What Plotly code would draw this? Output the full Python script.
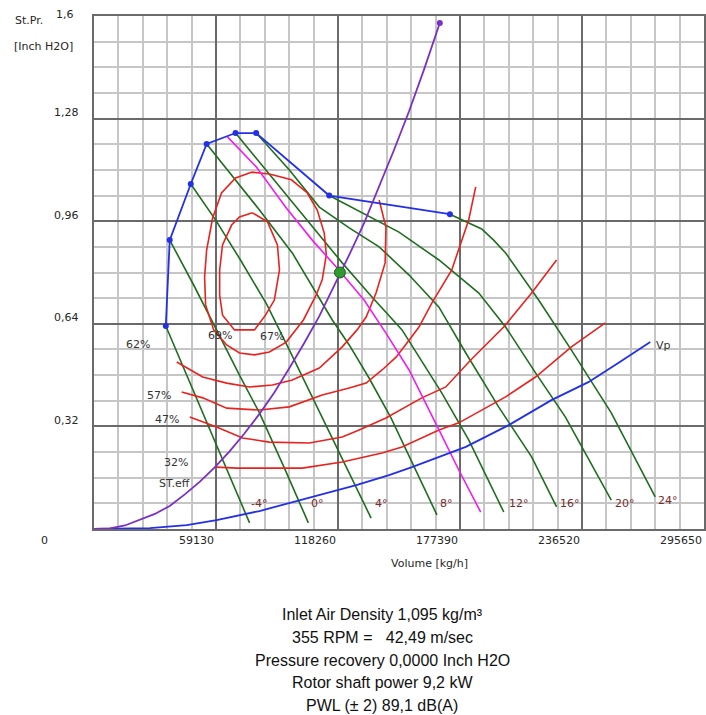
import plotly.graph_objects as go

# ---- axes -------------------------------------------------------------
x_ticks = [0, 59130, 118260, 177390, 236520, 295650]
x_tick_text = ["0", "59130", "118260", "177390", "236520", "295650"]
y_ticks = [0.32, 0.64, 0.96, 1.28, 1.6]
y_tick_text = ["0,32", "0,64", "0,96", "1,28", "1,6"]
X_MAX = 295650
Y_MAX = 1.6

# ---- surge line (blue, with points) -----------------------------------
surge_x = [34800, 36700, 46900, 54600, 68600, 78600, 114000, 172500]
surge_y = [0.633, 0.901, 1.076, 1.201, 1.235, 1.235, 1.040, 0.982]

# ---- system resistance curve (purple) ----------------------------------
system_x = [0, 7700, 15000, 22200, 29500, 36700, 44000, 51200, 58500, 65700,
            72900, 80200, 87400, 94700, 101900, 109200, 116400, 123700,
            130900, 138200, 145400, 152700, 159900, 167600]
system_y = [0.000, 0.002, 0.011, 0.028, 0.047, 0.072, 0.108, 0.147, 0.192, 0.242,
            0.298, 0.359, 0.426, 0.502, 0.580, 0.664, 0.758, 0.855,
            0.954, 1.067, 1.182, 1.303, 1.432, 1.578]

# ---- duty point ---------------------------------------------------------
duty_x = [119200]
duty_y = [0.800]

# ---- blade angle at duty (magenta) -------------------------------------
duty_angle_x = [64700, 78700, 93200, 105800, 117400, 130900, 141500, 152700,
                167200, 176800, 187400]
duty_angle_y = [1.223, 1.129, 1.001, 0.901, 0.817, 0.714, 0.611, 0.496,
                0.309, 0.184, 0.053]

# ---- blade angle lines (green) ------------------------------------------
angle_labels = ["-4°", "0°", "4°", "8°", "12°", "16°", "20°", "24°"]
angle_label_x = [80200, 108200, 139100, 171000, 205800, 230900, 257500, 278300]
angle_label_y = [0.081, 0.081, 0.081, 0.081, 0.081, 0.081, 0.081, 0.090]

angle_m4_x = [34800, 44900, 55100, 65200, 75400]
angle_m4_y = [0.633, 0.480, 0.324, 0.172, 0.019]
angle_0_x = [36700, 48300, 59400, 70500, 80200, 92300, 103900]
angle_0_y = [0.901, 0.761, 0.621, 0.480, 0.362, 0.190, 0.019]
angle_4_x = [46900, 58900, 71000, 83600, 95200, 109200, 122700, 134300]
angle_4_y = [1.076, 0.964, 0.839, 0.702, 0.552, 0.365, 0.190, 0.034]
angle_8_x = [54600, 67200, 80200, 96100, 105800, 115500, 123700, 133300,
             144000, 155100, 166200]
angle_8_y = [1.201, 1.098, 0.995, 0.861, 0.755, 0.652, 0.574, 0.471,
             0.346, 0.193, 0.044]
angle_12_x = [68600, 89900, 105800, 120300, 134300, 149300, 168600, 181600, 198600]
angle_12_y = [1.235, 1.067, 0.942, 0.830, 0.727, 0.621, 0.424, 0.278, 0.053]
angle_16_x = [78600, 94700, 109200, 123700, 138200, 152700, 167200, 180200,
              196100, 212100, 224200]
angle_16_y = [1.235, 1.120, 1.004, 0.939, 0.880, 0.792, 0.692, 0.549,
              0.381, 0.225, 0.069]
angle_20_x = [114000, 131900, 147800, 167200, 186500, 199500, 214000, 228500,
              239600, 250700]
angle_20_y = [1.040, 0.979, 0.926, 0.839, 0.736, 0.630, 0.487, 0.349,
              0.221, 0.090]
angle_24_x = [172500, 187900, 193700, 199500, 215500, 231400, 250700, 261400, 272000]
angle_24_y = [0.982, 0.936, 0.901, 0.861, 0.714, 0.558, 0.362, 0.231, 0.100]

# ---- static efficiency contours (red) ----------------------------------
eff_69_x = [76800, 84100, 88900, 89900, 87400, 83100, 77800, 68100, 62300,
            60900, 60900, 62300, 66700, 70500, 76800]
eff_69_y = [0.986, 0.958, 0.886, 0.808, 0.714, 0.667, 0.621, 0.621, 0.667,
            0.730, 0.808, 0.886, 0.948, 0.973, 0.986]
eff_67_x = [76300, 85000, 95700, 103400, 108200, 111600, 112600, 110600, 107700,
            101500, 93200, 85000, 77800, 70500, 64300, 58000, 54100, 53600,
            54600, 57500, 61800, 68600, 76300]
eff_67_y = [1.113, 1.107, 1.089, 1.048, 0.995, 0.923, 0.855, 0.777, 0.730,
            0.652, 0.583, 0.552, 0.543, 0.549, 0.574, 0.621, 0.699, 0.786,
            0.870, 0.970, 1.048, 1.095, 1.113]
eff_62_x = [40100, 52700, 64300, 75400, 86500, 96100, 109200, 120300, 127500,
            131900, 136700, 141100, 141500, 138200]
eff_62_y = [0.521, 0.474, 0.455, 0.443, 0.449, 0.465, 0.502, 0.568, 0.621,
            0.661, 0.736, 0.830, 0.942, 1.026]
eff_57_x = [42500, 52700, 64300, 80200, 94700, 110600, 123700, 131900, 139600,
            146400, 152700, 157500, 163800, 173400, 181600, 185000]
eff_57_y = [0.427, 0.409, 0.377, 0.371, 0.381, 0.418, 0.440, 0.455, 0.496,
            0.536, 0.589, 0.630, 0.705, 0.808, 0.964, 1.067]
eff_47_x = [46400, 59400, 72000, 85000, 104400, 120300, 128500, 141500, 158900,
            170500, 182600, 198600, 212100, 224200]
eff_47_y = [0.349, 0.318, 0.284, 0.271, 0.268, 0.287, 0.309, 0.346, 0.409,
            0.443, 0.527, 0.630, 0.736, 0.839]
eff_32_x = [59400, 69100, 91300, 101000, 120300, 139600, 149300, 167200, 176800,
            199500, 214000, 231400, 247800]
eff_32_y = [0.193, 0.190, 0.190, 0.190, 0.209, 0.237, 0.256, 0.309, 0.331,
            0.412, 0.474, 0.568, 0.643]

eff_labels = ["62%", "57%", "47%", "32%", "ST.eff", "69%", "67%"]
eff_label_x = [21300, 31400, 35300, 39600, 39100, 60900, 86500]
eff_label_y = [0.574, 0.415, 0.343, 0.206, 0.143, 0.605, 0.599]

# ---- velocity pressure (blue) ------------------------------------------
vp_x = [0, 12600, 27100, 44900, 59400, 80200, 96100, 110600, 127100, 143000,
        154100, 180200, 201000, 221700, 239600, 254100, 269600]
vp_y = [0.000, 0.002, 0.003, 0.012, 0.028, 0.056, 0.084, 0.109, 0.137, 0.168,
        0.193, 0.256, 0.324, 0.402, 0.458, 0.518, 0.583]

info_lines = [
    "Inlet Air Density 1,095 kg/m³",
    "355 RPM =   42,49 m/sec",
    "Pressure recovery 0,0000 Inch H2O",
    "Rotor shaft power 9,2 kW",
    "PWL (± 2) 89,1 dB(A)",
]

# ---- figure geometry ----------------------------------------------------
W, H = 706, 715
ML, MR, MT, MB = 94, 0, 16, 186
PW, PH = W - ML - MR, H - MT - MB


def paper_x(px):
    return (px - ML) / PW


def paper_y(py):
    return (H - MB - py) / PH


GREEN = "#1f6e1f"
RED = "#e8231f"
BLUE = "#2330e6"
PURPLE = "#7b2fc4"
MAGENTA = "#f01cf0"
LABEL_FONT = "DejaVu Sans"
TEXT_COLOR = "#262626"

fig = go.Figure()


def add_line(x, y, color, width=1.6):
    fig.add_trace(go.Scatter(x=x, y=y, mode="lines",
                             line=dict(color=color, width=width),
                             hoverinfo="skip", showlegend=False))


for xs, ys in [(angle_m4_x, angle_m4_y), (angle_0_x, angle_0_y),
               (angle_4_x, angle_4_y), (angle_8_x, angle_8_y),
               (angle_12_x, angle_12_y), (angle_16_x, angle_16_y),
               (angle_20_x, angle_20_y), (angle_24_x, angle_24_y)]:
    add_line(xs, ys, GREEN)

for xs, ys in [(eff_69_x, eff_69_y), (eff_67_x, eff_67_y), (eff_62_x, eff_62_y),
               (eff_57_x, eff_57_y), (eff_47_x, eff_47_y), (eff_32_x, eff_32_y)]:
    add_line(xs, ys, RED)

add_line(duty_angle_x, duty_angle_y, MAGENTA)
add_line(vp_x, vp_y, BLUE, 1.8)

fig.add_trace(go.Scatter(x=surge_x, y=surge_y, mode="lines+markers",
                         line=dict(color=BLUE, width=1.8),
                         marker=dict(color=BLUE, size=6, symbol="circle"),
                         hoverinfo="skip", showlegend=False))

add_line(system_x, system_y, PURPLE, 1.8)
fig.add_trace(go.Scatter(x=system_x[-1:], y=system_y[-1:], mode="markers",
                         marker=dict(color=PURPLE, size=6),
                         hoverinfo="skip", showlegend=False))

fig.add_trace(go.Scatter(x=duty_x, y=duty_y, mode="markers",
                         marker=dict(color="#2f9a2f", size=11,
                                     line=dict(color="#1f5e1f", width=1)),
                         hoverinfo="skip", showlegend=False))

annotations = []


def label(text, x, y, xref, yref, xanchor="center", size=11, color=TEXT_COLOR,
          family=LABEL_FONT, **kw):
    annotations.append(dict(x=x, y=y, xref=xref, yref=yref, text=text,
                            showarrow=False, xanchor=xanchor, yanchor="middle",
                            font=dict(family=family, size=size, color=color), **kw))


for txt, x, y in zip(angle_labels, angle_label_x, angle_label_y):
    label(txt, x, y, "x", "y", color="#7a2a2a")

for txt, x, y in zip(eff_labels, eff_label_x, eff_label_y):
    label(txt, x, y, "x", "y", color="#333333")

label("Vp", vp_x[-1], vp_y[-1], "x", "y", xanchor="left", xshift=4, yshift=-3,
      color="#333333")

# tick labels
for val, txt in zip(x_ticks, x_tick_text):
    label(txt, val, paper_y(540), "x", "paper", xanchor="right",
          xshift=-44 if val == 0 else 0)
for val, txt in zip(y_ticks, y_tick_text):
    if val == Y_MAX:
        label(txt, paper_x(65), val, "paper", "y", yshift=2)
    else:
        label(txt, paper_x(81), val, "paper", "y", xanchor="right", yshift=6)

label("St.Pr.", paper_x(13), paper_y(20), "paper", "paper", xanchor="left")
label("[Inch H2O]", paper_x(12), paper_y(46), "paper", "paper", xanchor="left")
label("Volume [kg/h]", paper_x(431), paper_y(563), "paper", "paper")

for i, line in enumerate(info_lines):
    label(line, paper_x(383), paper_y(615 + 22.5 * i), "paper", "paper",
          size=16, color="#111111", family="Liberation Sans")

MAJOR = "#6a6a6a"
MINOR = "#c6c6c6"

fig.update_layout(
    width=W, height=H,
    margin=dict(l=ML, r=MR, t=MT, b=MB, pad=0),
    paper_bgcolor="white", plot_bgcolor="white",
    showlegend=False,
    annotations=annotations,
    xaxis=dict(range=[0, X_MAX], tick0=0, dtick=x_ticks[1],
               showgrid=True, gridcolor=MAJOR, gridwidth=2,
               minor=dict(tick0=0, dtick=x_ticks[1] / 5, showgrid=True,
                          gridcolor=MINOR, gridwidth=2),
               showticklabels=False, ticks="", zeroline=False,
               showline=True, linecolor=MAJOR, linewidth=2, mirror=True,
               fixedrange=True),
    yaxis=dict(range=[0, Y_MAX], tick0=0, dtick=y_ticks[0],
               showgrid=True, gridcolor=MAJOR, gridwidth=2,
               minor=dict(tick0=0, dtick=y_ticks[0] / 4, showgrid=True,
                          gridcolor=MINOR, gridwidth=2),
               showticklabels=False, ticks="", zeroline=False,
               showline=True, linecolor=MAJOR, linewidth=2, mirror=True,
               fixedrange=True),
)

fig.write_html("out.html", config=dict(displayModeBar=False))
